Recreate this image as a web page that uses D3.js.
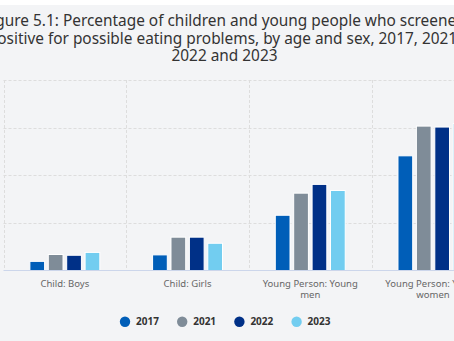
<!DOCTYPE html>
<html>
<head>
<meta charset="utf-8">
<script src="https://cdn.jsdelivr.net/npm/d3@7"></script>
<style>
  html, body { margin: 0; padding: 0; overflow: hidden; background: #fff; }
  svg { display: block; font-family: "Noto Sans", sans-serif; }
</style>
</head>
<body>
<div id="chart"></div>
<script>
// eating problems by age group / sex, one bar per survey year
var categories = ["Child: Boys", "Child: Girls", "Young Person: Young men", "Young Person: Young women"];
var years = ["2017", "2021", "2022", "2023"];
var v2017 = [4.8, 8.2, 29.0, 60.2];
var v2021 = [8.4, 17.5, 40.6, 75.8];
var v2022 = [8.0, 17.5, 45.2, 75.3];
var v2023 = [9.5, 14.3, 42.0, 77.2];
var yTicks = [0, 25, 50, 75, 100];
var titleLines = [
  "Figure 5.1: Percentage of children and young people who screened",
  "positive for possible eating problems, by age and sex, 2017, 2021,",
  "2022 and 2023"
];

var colors = ["#005eb8", "#7f8c98", "#003087", "#72cdf0"];
var series = [v2017, v2021, v2022, v2023];

var W = 454, H = 341;
var plot = {left: 3.5, top: 80, bottom: 270.5, step: 122.7};

var svg = d3.select("#chart").append("svg")
  .attr("width", W)
  .attr("height", H);

svg.append("rect").attr("width", W).attr("height", H).attr("fill", "#f3f4f6");
svg.append("rect").attr("width", W).attr("height", 5).attr("fill", "#ffffff");

// title
svg.append("g").selectAll("text")
  .data(titleLines)
  .enter().append("text")
  .attr("x", 224.5)
  .attr("y", function(d, i) { return 26 + i * 17.5; })
  .attr("text-anchor", "middle")
  .attr("font-size", 15.4)
  .attr("fill", "#333")
  .text(function(d) { return d; });

var x = d3.scaleBand()
  .domain(categories)
  .range([plot.left, plot.left + plot.step * categories.length]);

var xi = d3.scaleBand()
  .domain(years)
  .range([x.bandwidth() * 0.2, x.bandwidth() * 0.8])
  .paddingInner(0.2)
  .paddingOuter(0.1);

var y = d3.scaleLinear()
  .domain([0, 100])
  .range([plot.bottom, plot.top]);

// horizontal grid
svg.append("g").selectAll("line")
  .data(yTicks.filter(function(t) { return t > 0; }))
  .enter().append("line")
  .attr("x1", plot.left)
  .attr("x2", x.range()[1])
  .attr("y1", function(d) { return Math.round(y(d)) + 0.5; })
  .attr("y2", function(d) { return Math.round(y(d)) + 0.5; })
  .attr("stroke", "#dddddd")
  .attr("stroke-dasharray", "3,2");

// vertical grid between categories
var bounds = categories.map(function(c) { return x(c); }).concat([x.range()[1]]);
svg.append("g").selectAll("line")
  .data(bounds)
  .enter().append("line")
  .attr("x1", function(d) { return Math.round(d) + 0.5; })
  .attr("x2", function(d) { return Math.round(d) + 0.5; })
  .attr("y1", plot.top)
  .attr("y2", plot.bottom)
  .attr("stroke", "#dddddd")
  .attr("stroke-dasharray", "3,2");

// bars
var groups = svg.append("g").selectAll("g")
  .data(categories)
  .enter().append("g")
  .attr("transform", function(c) { return "translate(" + x(c) + ",0)"; });

groups.selectAll("rect")
  .data(function(c, ci) {
    return years.map(function(yr, si) { return {year: yr, si: si, value: series[si][ci]}; });
  })
  .enter().append("rect")
  .attr("x", function(d) { return xi(d.year); })
  .attr("width", xi.bandwidth())
  .attr("y", function(d) { return y(d.value); })
  .attr("height", function(d) { return y(0) - y(d.value); })
  .attr("fill", function(d) { return colors[d.si]; })
  .attr("stroke", "#ffffff")
  .attr("stroke-width", 1);

// axis line
svg.append("line")
  .attr("x1", plot.left)
  .attr("x2", x.range()[1])
  .attr("y1", plot.bottom)
  .attr("y2", plot.bottom)
  .attr("stroke", "#ccd6eb");

// category labels, wrapped to fit
var labels = svg.append("g").selectAll("text")
  .data(categories)
  .enter().append("text")
  .attr("x", function(c) { return x(c) + x.bandwidth() / 2; })
  .attr("y", 286.5)
  .attr("text-anchor", "middle")
  .attr("font-size", 9.5)
  .attr("fill", "#666");

labels.each(function(c) {
  var el = d3.select(this);
  var words = c.split(" ");
  var line = [];
  var tspan = el.append("tspan").attr("x", el.attr("x"));
  words.forEach(function(w) {
    line.push(w);
    tspan.text(line.join(" "));
    if (tspan.node().getComputedTextLength() > 100 && line.length > 1) {
      line.pop();
      tspan.text(line.join(" "));
      line = [w];
      tspan = el.append("tspan").attr("x", el.attr("x")).attr("dy", 11.8).text(w);
    }
  });
});

// legend
var legend = svg.append("g").selectAll("g")
  .data(years)
  .enter().append("g")
  .attr("transform", function(d, i) { return "translate(" + (125 + i * 57.2) + ",321.7)"; });

legend.append("circle")
  .attr("r", 5.2)
  .attr("fill", function(d, i) { return colors[i]; });

legend.append("text")
  .attr("x", 11)
  .attr("y", 3.6)
  .attr("font-size", 10)
  .attr("font-weight", "bold")
  .attr("fill", "#333")
  .text(function(d) { return d; });
</script>
</body>
</html>
